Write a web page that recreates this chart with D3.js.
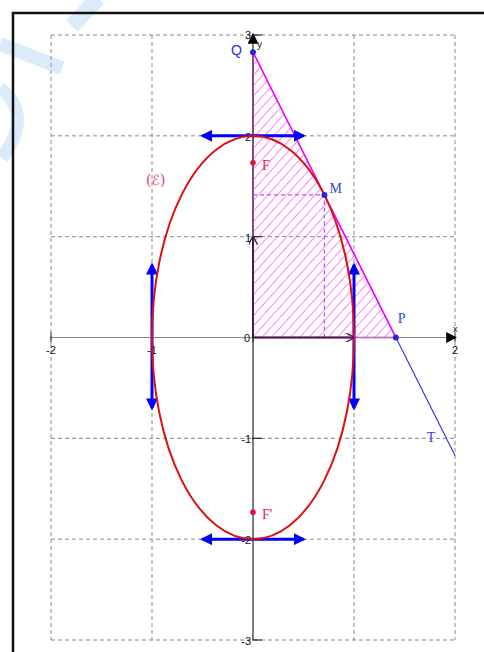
<!DOCTYPE html>
<html><head><meta charset="utf-8">
<script src="https://cdn.jsdelivr.net/npm/d3@7"></script>
<style>body{margin:0;background:#fff}svg{display:block}</style>
</head><body>
<script>
// ----- data -----
const xTicks = [-2, -1, 0, 1, 2];
const yTicks = [-3, -2, -1, 0, 1, 2, 3];
const xTickLabels = [{v:-2, t:"-2"}, {v:-1, t:"-1"}, {v:2, t:"2"}];
const yTickLabels = [{v:3,t:"3"},{v:2,t:"2"},{v:1,t:"1"},{v:-1,t:"-1"},{v:-2,t:"-2"},{v:-3,t:"-3"}];
const ellipseAxes = {a: 1, b: 2};
const foci = [{name:"F", x:0, y:1.732}, {name:"F'", x:0, y:-1.732}];
const pointM = {name:"M", x:0.707, y:1.414};
const pointP = {name:"P", x:1.414, y:0};
const pointQ = {name:"Q", x:0, y:2.83};
const tangentEnd = {x:2, y:-1.17};
const triangle = [[0,0],[1.414,0],[0,2.83]];
const vertexArrows = [
  {x0:-0.5, y0:2, x1:0.5, y1:2},
  {x0:-0.5, y0:-2, x1:0.5, y1:-2},
  {x0:-1, y0:-0.7, x1:-1, y1:0.72},
  {x0:1, y0:-0.7, x1:1, y1:0.72}
];
const unitVectors = [{x0:0,y0:0,x1:1,y1:0},{x0:0,y0:0,x1:0,y1:1}];

const W = 484, H = 652;
const svg = d3.select("body").append("svg").attr("width", W).attr("height", H);
const x = d3.scaleLinear().domain([-2, 2]).range([51, 455]);
const y = d3.scaleLinear().domain([-3, 3]).range([640, 35]);

const defs = svg.append("defs");
const pat = defs.append("pattern").attr("id","hatch").attr("patternUnits","userSpaceOnUse")
  .attr("width",7).attr("height",7).attr("patternTransform","rotate(42)");
pat.append("line").attr("x1",0).attr("y1",0).attr("x2",0).attr("y2",7)
  .attr("stroke","#ff1aff").attr("stroke-width",1.1);
function arrowMarker(id, color, size){
  defs.append("marker").attr("id",id).attr("viewBox","0 0 10 10").attr("refX",8).attr("refY",5)
    .attr("markerWidth",size).attr("markerHeight",size).attr("orient","auto-start-reverse")
    .attr("markerUnits","userSpaceOnUse")
    .append("path").attr("d","M0,0 L10,5 L0,10 Z").attr("fill",color);
}
arrowMarker("blueArrow","#0000ff",12);
arrowMarker("blackArrow","#000",11);
defs.append("marker").attr("id","openArrow").attr("viewBox","0 0 10 10").attr("refX",9).attr("refY",5)
  .attr("markerWidth",9).attr("markerHeight",9).attr("orient","auto").attr("markerUnits","userSpaceOnUse")
  .append("path").attr("d","M0,0 L10,5 L0,10").attr("fill","none").attr("stroke","#402040").attr("stroke-width",1.5);

// watermark
const wm = svg.append("g").attr("stroke","#dcebfb").attr("fill","none").attr("stroke-linecap","butt");
wm.append("path").attr("d","M0,44 L62,68").attr("stroke-width",14);
wm.append("path").attr("d","M72,26 L98,-2").attr("stroke-width",16);
wm.append("path").attr("d","M0,88 Q34,115 2,158").attr("stroke-width",13);

// frame
svg.append("path").attr("d",`M13,${H+5} L13,13 L${W+5},13`).attr("fill","none")
  .attr("stroke","#111").attr("stroke-width",2.5);

// grid
const grid = svg.append("g").attr("stroke","#8a8a8a").attr("stroke-width",1).attr("stroke-dasharray","4,3");
grid.selectAll(".gv").data(xTicks.filter(d=>d!==0)).join("line")
  .attr("x1",d=>x(d)).attr("x2",d=>x(d)).attr("y1",y(3)).attr("y2",y(-3));
grid.selectAll(".gh").data(yTicks.filter(d=>d!==0)).join("line")
  .attr("y1",d=>y(d)).attr("y2",d=>y(d)).attr("x1",x(-2)).attr("x2",x(2));

// tangent line (under the triangle edge)
svg.append("line").attr("x1",x(pointQ.x)).attr("y1",y(pointQ.y)).attr("x2",x(tangentEnd.x)).attr("y2",y(tangentEnd.y))
  .attr("stroke","#2a2aee").attr("stroke-width",1.1);

// hatched triangle
const line = d3.line().x(d=>x(d[0])).y(d=>y(d[1]));
svg.append("path").attr("d", line(triangle)+"Z").attr("fill","url(#hatch)")
  .attr("stroke","#ff00ff").attr("stroke-width",1.5);

// axes
svg.append("line").attr("x1",x(-2)).attr("x2",x(2)).attr("y1",y(0)).attr("y2",y(0))
  .attr("stroke","#888").attr("stroke-width",1.2).attr("marker-end","url(#blackArrow)");
svg.append("line").attr("x1",x(0)).attr("x2",x(0)).attr("y1",y(-3)).attr("y2",y(3))
  .attr("stroke","#555").attr("stroke-width",1.5).attr("marker-end","url(#blackArrow)");
// ticks
svg.append("g").selectAll("line").data(xTicks).join("line")
  .attr("x1",d=>x(d)).attr("x2",d=>x(d)).attr("y1",y(0)-5).attr("y2",y(0)+5)
  .attr("stroke","#222").attr("stroke-width",1);
svg.append("g").selectAll("line").data(yTicks).join("line")
  .attr("y1",d=>y(d)).attr("y2",d=>y(d)).attr("x1",x(0)-1).attr("x2",x(0)+9)
  .attr("stroke","#222").attr("stroke-width",1.2);
const tf = "Liberation Sans, Arial, sans-serif";
svg.append("g").selectAll("text").data(xTickLabels).join("text")
  .attr("x",d=>x(d.v)).attr("y",y(0)+16).attr("text-anchor","middle")
  .attr("font-family",tf).attr("font-size",11).attr("fill","#111").text(d=>d.t);
svg.append("g").selectAll("text").data(yTickLabels).join("text")
  .attr("x",x(0)-2).attr("y",d=>y(d.v)+ (d.v===3?4:5)).attr("text-anchor","end")
  .attr("font-family",tf).attr("font-size",11).attr("fill","#111").text(d=>d.t);
svg.append("text").attr("x",x(0)-3).attr("y",y(0)+4).attr("text-anchor","end")
  .attr("font-family",tf).attr("font-size",11).attr("fill","#111").text("0");
svg.append("text").attr("x",x(0)+4).attr("y",y(3)+13)
  .attr("font-family",tf).attr("font-size",10).attr("fill","#111").text("y");
svg.append("text").attr("x",x(2)-2).attr("y",y(0)-6)
  .attr("font-family",tf).attr("font-size",9).attr("fill","#111").text("x");

// dashed projections of M
svg.append("g").attr("stroke","#cc44ff").attr("stroke-width",1.2).attr("stroke-dasharray","4,3")
  .selectAll("line").data([[ [0,pointM.y],[pointM.x,pointM.y] ],[ [pointM.x,0],[pointM.x,pointM.y] ]]).join("line")
  .attr("x1",d=>x(d[0][0])).attr("y1",d=>y(d[0][1])).attr("x2",d=>x(d[1][0])).attr("y2",d=>y(d[1][1]));

// unit vectors
svg.append("g").selectAll("line").data(unitVectors).join("line")
  .attr("x1",d=>x(d.x0)).attr("y1",d=>y(d.y0)).attr("x2",d=>x(d.x1)).attr("y2",d=>y(d.y1))
  .attr("stroke","#402040").attr("stroke-width",2).attr("marker-end","url(#openArrow)");

// vertex tangent arrows
svg.append("g").selectAll("line").data(vertexArrows).join("line")
  .attr("x1",d=>x(d.x0)).attr("y1",d=>y(d.y0)).attr("x2",d=>x(d.x1)).attr("y2",d=>y(d.y1))
  .attr("stroke","#0000ff").attr("stroke-width",3)
  .attr("marker-start","url(#blueArrow)").attr("marker-end","url(#blueArrow)");

// ellipse
svg.append("ellipse").attr("cx",x(0)).attr("cy",y(0))
  .attr("rx",x(ellipseAxes.a)-x(0)).attr("ry",y(0)-y(ellipseAxes.b))
  .attr("fill","none").attr("stroke","#dd1010").attr("stroke-width",2);

// points
svg.append("g").selectAll("circle").data([pointQ,pointM,pointP]).join("circle")
  .attr("cx",d=>x(d.x)).attr("cy",d=>y(d.y)).attr("r",3).attr("fill","#3322dd");
svg.append("g").selectAll("circle").data(foci).join("circle")
  .attr("cx",d=>x(d.x)).attr("cy",d=>y(d.y)).attr("r",2.8).attr("fill","#e0103a");

// labels
const sf = "Liberation Serif, Times New Roman, serif";
svg.append("text").attr("x",x(pointQ.x)-22).attr("y",y(pointQ.y)+3).attr("font-family",tf)
  .attr("font-size",14).attr("fill","#2233dd").text("Q");
svg.append("text").attr("x",x(pointM.x)+5).attr("y",y(pointM.y)-2).attr("font-family",sf)
  .attr("font-size",14).attr("fill","#3344dd").text("M");
svg.append("text").attr("x",x(pointP.x)+2).attr("y",y(pointP.y)-15).attr("font-family",sf)
  .attr("font-size",14).attr("fill","#3344dd").text("P");
svg.append("text").attr("x",x(1.72)).attr("y",y(-1.04)).attr("font-family",sf)
  .attr("font-size",14).attr("fill","#3344dd").text("T");
svg.append("g").selectAll("text").data(foci).join("text")
  .attr("x",d=>x(d.x)+9).attr("y",d=>y(d.y)+7).attr("font-family",sf)
  .attr("font-size",14).attr("fill","#e0204a").text(d=>d.name);
svg.append("text").attr("x",146).attr("y",185).attr("font-family","DejaVu Serif, DejaVu Sans, serif")
  .attr("font-size",14).attr("fill","#e84060").text("(ℰ)");
</script>
</body></html>
